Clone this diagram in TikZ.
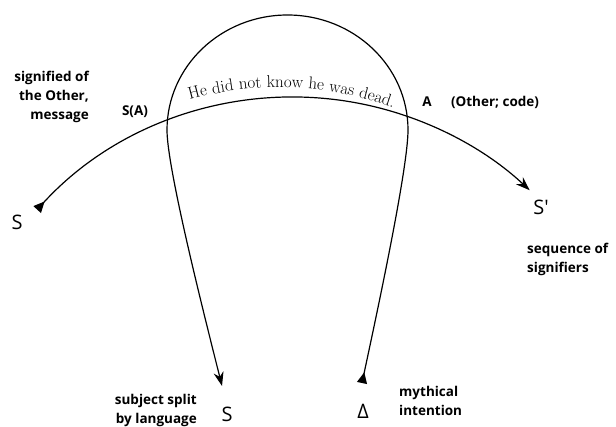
\documentclass[tikz,border=0pt]{standalone}
\usepackage{fontspec}
\usepackage{tikz}
\usetikzlibrary{arrows.meta, positioning, decorations.text}
\newfontfamily\labelfont{Open Sans}
\newfontfamily\letterfont{Open Sans}
\newcommand\msgfont{\fontsize{17}{19}\selectfont}
\tikzset{
  >=Stealth,
  flowline/.style={line width=1.2pt, {Triangle[reversed, length=11pt, width=10pt]}-{Stealth[length=14pt, width=10pt]}},
  gloss/.style={font=\labelfont\bfseries\fontsize{13.5}{19}\selectfont, align=right, inner sep=0pt},
  letter/.style={font=\letterfont\fontsize{20}{20}\selectfont, inner sep=0pt}
}

\begin{document}
\begin{tikzpicture}[x=1pt, y=1pt]
    \useasboundingbox (0,0) rectangle (616,426);

    % the signifying chain S -> S'
    \coordinate (C) at (293,-18);
    \path (C) ++(137.5:347pt) coordinate (chainL);

    \node (sleft) [letter] at (17,204) {S};
    \node (sprime) [letter] at (541,219) {S'};
    \node (sbar) [letter] at (227,12) {S};
    \node (delta) [letter] at (363,15) {Δ};

    \node (signified) [gloss, anchor=east] at (89,329) {signified of\\the Other,\\message};
    \node (sA) [gloss] at (135,314) {S(A)};
    \node (A) [gloss] at (427,324) {A};
    \node (other) [gloss, right=19pt of A] {(Other; code)};
    \node (sequence) [gloss, align=left, anchor=west] at (527,167) {sequence of\\signifiers};
    \node (subject) [gloss, anchor=east] at (197,16) {subject split\\by language};
    \node (mythical) [gloss, align=left, anchor=west] at (399,25) {mythical\\intention};

    \draw[flowline] (chainL) arc[start angle=137.5, end angle=47, radius=347pt];

    % the loop from the intention down to the split subject
    \coordinate (loopstart) at (362,43);
    \coordinate (loopR) at (408,296);
    \coordinate (loopend) at (222,40);
    \draw[flowline] (loopstart) .. controls +(78:60) and +(-90:40) .. (loopR)
        arc[start angle=0, end angle=180, x radius=120.5pt, y radius=115pt]
        .. controls +(-90:40) and +(104:60) .. (loopend);

    \coordinate (T) at (279,7);
    \path (T) ++(107.75:331.5pt) coordinate (msgL);
    \path[decorate, decoration={text along path, text align=center,
        text={|\msgfont|He did not know he was dead.}}]
        (msgL) arc[start angle=107.75, end angle=67.75, radius=331.5pt];
\end{tikzpicture}
\end{document}
